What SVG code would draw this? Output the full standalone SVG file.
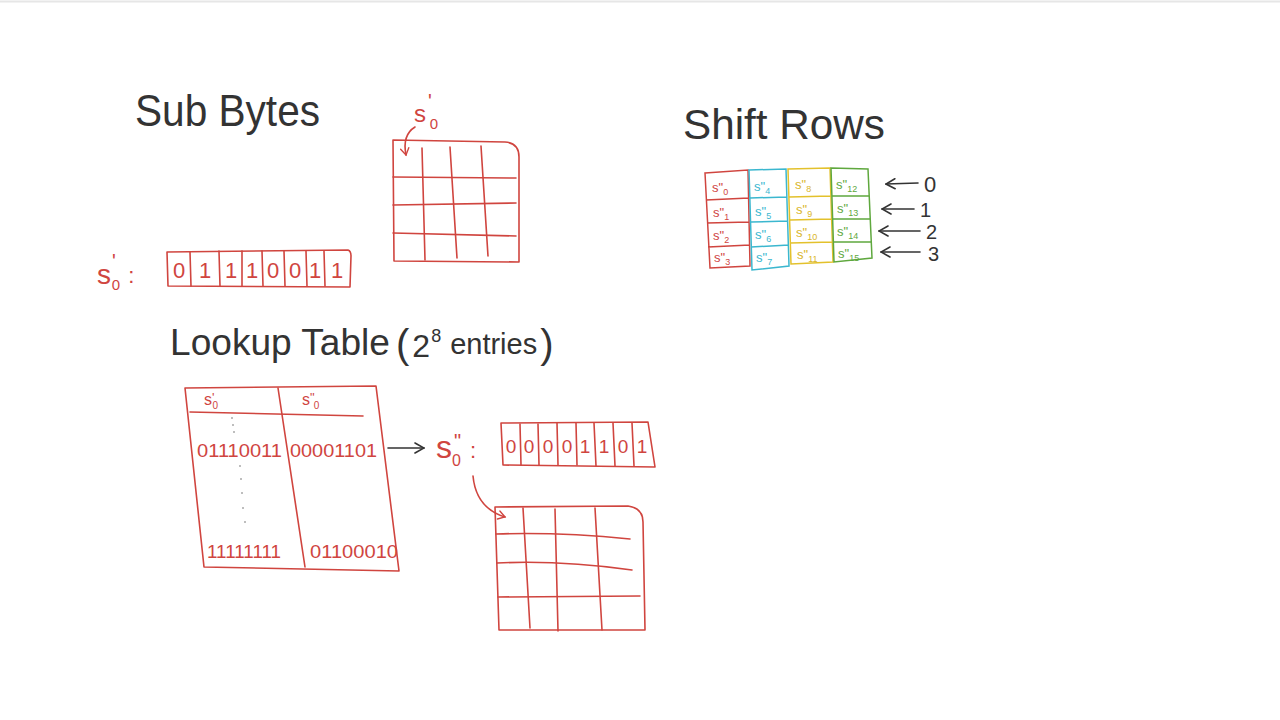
<svg xmlns="http://www.w3.org/2000/svg" width="1280" height="720" viewBox="0 0 1280 720">
<defs>
<style>
.bg{fill:#ffffff}
.ink{fill:#333333;font-family:"Liberation Sans","DejaVu Sans",sans-serif}
.rt{fill:#d0453f;font-family:"Liberation Sans","DejaVu Sans",sans-serif}
.mid{text-anchor:middle}
.r{fill:none;stroke:#d0453f;stroke-width:1.6;stroke-linecap:round;stroke-linejoin:round}
.k{fill:none;stroke:#333333;stroke-width:1.6;stroke-linecap:round;stroke-linejoin:round}
.cr{fill:none;stroke:#d0453f;stroke-width:1.5}
.cc{fill:none;stroke:#3bb7cf;stroke-width:1.5}
.cy{fill:none;stroke:#e3c12c;stroke-width:1.5}
.cg{fill:none;stroke:#5fa83e;stroke-width:1.5}
.tr{fill:#d0453f;font-family:"Liberation Sans",sans-serif;font-size:13px}
.tc{fill:#3bb7cf;font-family:"Liberation Sans",sans-serif;font-size:13px}
.ty{fill:#d9b62a;font-family:"Liberation Sans",sans-serif;font-size:13px}
.tg{fill:#5fa83e;font-family:"Liberation Sans",sans-serif;font-size:13px}
</style>
<marker id="openK" viewBox="0 0 12 12" refX="11" refY="6" markerWidth="12" markerHeight="12" markerUnits="userSpaceOnUse" orient="auto-start-reverse">
<path d="M2,1 L11,6 L2,11" fill="none" stroke="#333333" stroke-width="1.6" stroke-linecap="round"/>
</marker>
<marker id="openR" viewBox="0 0 12 12" refX="10" refY="6" markerWidth="10" markerHeight="10" markerUnits="userSpaceOnUse" orient="auto">
<path d="M2,1 L10,6 L2,11" fill="none" stroke="#d0453f" stroke-width="1.6" stroke-linecap="round"/>
</marker>
</defs>
<rect class="bg" x="0" y="0" width="1280" height="720"/>
<line x1="0" y1="1.5" x2="1280" y2="1.5" stroke="#e6e6e6" stroke-width="2"/>

<g id="title-subbytes">
<text class="ink" x="135" y="126" font-size="44" textLength="185" lengthAdjust="spacingAndGlyphs">Sub Bytes</text>
</g>

<g id="label-s0prime-top">
<text class="rt" x="414" y="122" font-size="24">s<tspan font-size="20" dx="2" dy="-14">'</tspan><tspan font-size="15" dx="-2" dy="21">0</tspan></text>
</g>

<g id="grid-state-1">
<path class="r" d="M393,140 L505,142 Q519,143 519,157 L519,262 L394,261 Z"/>
<path class="r" d="M393,177 L516,178 M393,205 L516,203 M393,233 L516,236"/>
<path class="r" d="M422,148 L425,260 M450,147 L457,258 M481,146 L488,256"/>
</g>

<g id="label-s0prime-byte">
<text class="rt" x="97" y="284" font-size="28">s<tspan font-size="20" dx="1" dy="-16">'</tspan><tspan font-size="15" dx="-4" dy="22">0</tspan><tspan font-size="22" dx="8" dy="-7">:</tspan></text>
</g>

<g id="byte-s0prime">
<path class="r" d="M167,252 L348,250 Q351,251 351,256 L350,287 L168,286 Z"/>
<path class="r" d="M190,252 L191,286 M219,251 L220,286 M242,251 L242,286 M262,251 L263,286 M284,251 L285,286 M306,251 L307,286 M324,251 L325,286"/>
<text class="rt mid" x="179" y="278" font-size="22">0</text>
<text class="rt mid" x="205" y="278" font-size="22">1</text>
<text class="rt mid" x="231" y="278" font-size="22">1</text>
<text class="rt mid" x="252" y="278" font-size="22">1</text>
<text class="rt mid" x="273" y="278" font-size="22">0</text>
<text class="rt mid" x="295" y="278" font-size="22">0</text>
<text class="rt mid" x="315" y="278" font-size="22">1</text>
<text class="rt mid" x="337" y="278" font-size="22">1</text>
</g>

<g id="title-lookup">
<text class="ink" x="170" y="355" font-size="36" textLength="220" lengthAdjust="spacingAndGlyphs">Lookup Table</text>
<text class="ink" x="396" y="358" font-size="40">(<tspan font-size="32" dx="3" dy="-1">2</tspan><tspan font-size="18" dx="1" dy="-15">8</tspan><tspan font-size="29" dx="9" dy="12">entries</tspan><tspan font-size="40" dx="3" dy="4">)</tspan></text>
</g>

<g id="lookup-table">
<path class="r" d="M185,388 L376,386 L399,571 L204,567 Z"/>
<path class="r" d="M190,412 L363,416"/>
<path class="r" d="M278,388 L305,567"/>
<text class="rt" x="204" y="405" font-size="16">s<tspan font-size="13" dy="-3">'</tspan><tspan font-size="10" dx="-2" dy="7">0</tspan></text>
<text class="rt" x="302" y="405" font-size="16">s<tspan font-size="13" dy="-3">"</tspan><tspan font-size="10" dx="-1" dy="7">0</tspan></text>
<g fill="#a8a8a8">
<circle cx="232" cy="418" r="1"/><circle cx="233" cy="425" r="1"/><circle cx="234" cy="432" r="1"/>
<circle cx="240" cy="466" r="1"/><circle cx="241" cy="479" r="1"/><circle cx="242" cy="493" r="1"/><circle cx="243" cy="508" r="1"/><circle cx="245" cy="522" r="1"/>
</g>
<text class="rt" x="197" y="457" font-size="18" textLength="85" lengthAdjust="spacingAndGlyphs">01110011</text>
<text class="rt" x="290" y="457" font-size="18" textLength="87" lengthAdjust="spacingAndGlyphs">00001101</text>
<text class="rt" x="207" y="558" font-size="18" textLength="74" lengthAdjust="spacingAndGlyphs">11111111</text>
<text class="rt" x="310" y="558" font-size="18" textLength="88" lengthAdjust="spacingAndGlyphs">01100010</text>
</g>

<g id="label-s0dprime">
<text class="rt" x="436" y="458" font-size="32">s<tspan font-size="20" dx="2" dy="-10">"</tspan><tspan font-size="16" dx="-9" dy="18">0</tspan><tspan font-size="22" dx="9" dy="-8">:</tspan></text>
</g>

<g id="byte-s0dprime">
<path class="r" d="M501,423 L648,422 L655,467 L503,465 Z"/>
<path class="r" d="M520,424 L521,465 M538,424 L539,465 M557,423 L558,465 M576,423 L577,465 M594,423 L596,466 M613,423 L615,466 M632,423 L634,466"/>
<text class="rt mid" x="511" y="453" font-size="19">0</text>
<text class="rt mid" x="529" y="453" font-size="19">0</text>
<text class="rt mid" x="548" y="453" font-size="19">0</text>
<text class="rt mid" x="567" y="453" font-size="19">0</text>
<text class="rt mid" x="585" y="453" font-size="19">1</text>
<text class="rt mid" x="604" y="453" font-size="19">1</text>
<text class="rt mid" x="623" y="453" font-size="19">0</text>
<text class="rt mid" x="642" y="453" font-size="19">1</text>
</g>

<g id="grid-state-2">
<path class="r" d="M495,507 L628,506 Q643,508 643,522 L645,630 L499,630 Z"/>
<path class="r" d="M496,534 Q560,532 630,539 M497,563 Q560,560 632,570 M498,597 L640,596"/>
<path class="r" d="M523,508 L530,628 M555,509 L558,631 M595,508 L602,630"/>
</g>

<g id="title-shiftrows">
<text class="ink" x="683" y="139" font-size="42" textLength="202" lengthAdjust="spacingAndGlyphs">Shift Rows</text>
</g>

<g id="shiftrows-state">
<path class="cr" d="M705,173 L748,170 L750,266 L710,268 Z M706,200 L749,198 M707,223 L749,222 M708,247 L750,245"/>
<path class="cc" d="M749,170 L786,169 L789,266 L752,270 Z M750,198 L787,197 M751,222 L788,221 M751,247 L789,245"/>
<path class="cy" d="M788,169 L830,168 L833,262 L791,264 Z M789,197 L831,196 M790,220 L832,219 M790,243 L833,242"/>
<path class="cg" d="M831,168 L868,169 L872,258 L834,262 Z M832,196 L869,196 M833,219 L870,219 M833,242 L871,242"/>
<text class="tr" x="712" y="192">s"<tspan font-size="9" dy="3">0</tspan></text>
<text class="tr" x="713" y="217">s"<tspan font-size="9" dy="3">1</tspan></text>
<text class="tr" x="713" y="240">s"<tspan font-size="9" dy="3">2</tspan></text>
<text class="tr" x="714" y="262">s"<tspan font-size="9" dy="3">3</tspan></text>
<text class="tc" x="754" y="191">s"<tspan font-size="9" dy="3">4</tspan></text>
<text class="tc" x="755" y="216">s"<tspan font-size="9" dy="3">5</tspan></text>
<text class="tc" x="755" y="239">s"<tspan font-size="9" dy="3">6</tspan></text>
<text class="tc" x="756" y="262">s"<tspan font-size="9" dy="3">7</tspan></text>
<text class="ty" x="795" y="189">s"<tspan font-size="9" dy="3">8</tspan></text>
<text class="ty" x="796" y="214">s"<tspan font-size="9" dy="3">9</tspan></text>
<text class="ty" x="796" y="237">s"<tspan font-size="9" dy="3">10</tspan></text>
<text class="ty" x="797" y="259">s"<tspan font-size="9" dy="3">11</tspan></text>
<text class="tg" x="836" y="189">s"<tspan font-size="9" dy="3">12</tspan></text>
<text class="tg" x="837" y="213">s"<tspan font-size="9" dy="3">13</tspan></text>
<text class="tg" x="837" y="236">s"<tspan font-size="9" dy="3">14</tspan></text>
<text class="tg" x="838" y="258">s"<tspan font-size="9" dy="3">15</tspan></text>
</g>

<g id="row-labels">
<text class="ink" x="924" y="192" font-size="22">0</text>
<text class="ink" x="920" y="217" font-size="20">1</text>
<text class="ink" x="926" y="239" font-size="20">2</text>
<text class="ink" x="928" y="261" font-size="20">3</text>
</g>

<g id="connectors">
<path class="r" d="M415,127 Q402,135 406,155" marker-end="url(#openR)"/>
<path class="r" d="M473,476 Q476,508 505,517" marker-end="url(#openR)"/>
<line class="k" x1="388" y1="448" x2="424" y2="448" marker-end="url(#openK)"/>
<line class="k" x1="918" y1="183" x2="886" y2="184" marker-end="url(#openK)"/>
<line class="k" x1="914" y1="209" x2="882" y2="209" marker-end="url(#openK)"/>
<line class="k" x1="920" y1="231" x2="879" y2="231" marker-end="url(#openK)"/>
<line class="k" x1="920" y1="252" x2="881" y2="252" marker-end="url(#openK)"/>
</g>
</svg>
